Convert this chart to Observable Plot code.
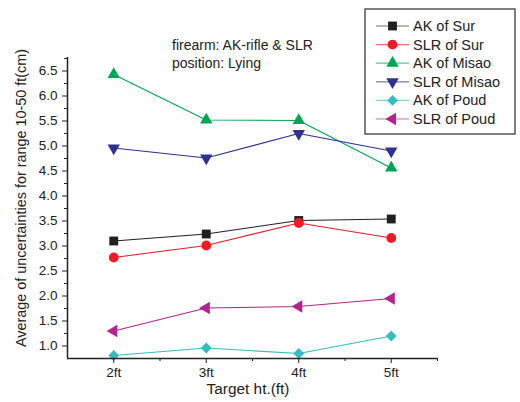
<!DOCTYPE html>
<html>
<head>
<meta charset="utf-8">
<script src="https://cdn.jsdelivr.net/npm/d3@7"></script>
<script src="https://cdn.jsdelivr.net/npm/@observablehq/plot@0.6"></script>
<style>
  body { margin: 0; background: #fff; }
  #chart svg { font-family: "Liberation Sans", Arial, sans-serif; }
</style>
</head>
<body>
<div id="chart"></div>
<script>
// Target heights (ft) and their tick labels
const heights = [2, 3, 4, 5];
const heightLabels = ["2ft", "3ft", "4ft", "5ft"];

// Average uncertainty (cm) for range 10-50 ft, one array per firearm/shooter
const seriesNames = ["AK of Sur", "SLR of Sur", "AK of Misao", "SLR of Misao", "AK of Poud", "SLR of Poud"];
const akSur    = [3.10, 3.24, 3.51, 3.54];
const slrSur   = [2.77, 3.01, 3.46, 3.16];
const akMisao  = [6.43, 5.52, 5.51, 4.56];
const slrMisao = [4.96, 4.76, 5.25, 4.90];
const akPoud   = [0.81, 0.96, 0.85, 1.20];
const slrPoud  = [1.30, 1.76, 1.79, 1.95];

// Axis ticks
const yMajorTicks = [1.0, 1.5, 2.0, 2.5, 3.0, 3.5, 4.0, 4.5, 5.0, 5.5, 6.0, 6.5];
const yMinorTicks = [1.25, 1.75, 2.25, 2.75, 3.25, 3.75, 4.25, 4.75, 5.25, 5.75, 6.25, 6.75];
const xMinorTicks = [2.5, 3.5, 4.5, 5.5];

// Styling per series: colour, marker shape and marker rotation
const style = {
  color:  ["#231f20", "#ed1c24", "#00a651", "#2e3192", "#33bdbd", "#b3228f"],
  symbol: ["square", "circle", "triangle", "triangle", "square", "triangle"],
  rotate: [0, 0, 0, 180, 45, -90],
  r:      [5.0, 4.9, 4.6, 4.6, 4.3, 4.6]
};

const values = [akSur, slrSur, akMisao, slrMisao, akPoud, slrPoud];
const series = seriesNames.map((name, i) => ({
  name, i,
  rows: heights.map((h, j) => ({height: h, value: values[i][j]}))
}));

const width = 520, height = 402;
const axisColor = "#222";
const tickFont = 13.5;
const blank = () => "";

const marks = [];
series.forEach(s => {
  marks.push(Plot.line(s.rows, {x: "height", y: "value", stroke: style.color[s.i], strokeWidth: 1.1}));
});
series.forEach(s => {
  marks.push(Plot.dot(s.rows, {
    x: "height", y: "value",
    symbol: style.symbol[s.i], r: style.r[s.i], rotate: style.rotate[s.i],
    fill: style.color[s.i], stroke: "none"
  }));
});

marks.push(
  // tick marks (outward), major and minor
  Plot.axisY(yMinorTicks, {tickSize: 3, tickFormat: blank, label: null, stroke: axisColor}),
  Plot.axisY(yMajorTicks, {tickSize: 5, tickFormat: blank, label: null, stroke: axisColor}),
  Plot.axisX(xMinorTicks, {tickSize: 3, tickFormat: blank, label: null, stroke: axisColor}),
  Plot.axisX(heights, {tickSize: 5, tickFormat: blank, label: null, stroke: axisColor}),
  // tick labels
  Plot.text(yMajorTicks, {
    y: d => d, frameAnchor: "left", dx: -10, textAnchor: "end",
    text: d3.format(".1f"), fontSize: tickFont, fill: axisColor
  }),
  Plot.text(heights, {
    x: d => d, frameAnchor: "bottom", dy: 18,
    text: d => heightLabels[heights.indexOf(d)], fontSize: tickFont, fill: axisColor
  }),
  // axis lines
  Plot.ruleX([1.5], {stroke: axisColor, strokeWidth: 1.5}),
  Plot.ruleY([0.75], {stroke: axisColor, strokeWidth: 1.5})
);

const chart = Plot.plot({
  width, height,
  marginLeft: 67, marginRight: 83, marginTop: 57, marginBottom: 44,
  style: {color: axisColor, background: "#fff", fontFamily: "'Liberation Sans', Arial, sans-serif"},
  x: {domain: [1.5, 5.5]},
  y: {domain: [0.75, 6.77]},
  marks
});

document.getElementById("chart").appendChild(chart);

const svg = d3.select(chart);

// Axis titles
svg.append("text")
  .attr("transform", "translate(22,198) rotate(-90)")
  .attr("text-anchor", "middle")
  .attr("dominant-baseline", "middle")
  .attr("font-size", 14.4)
  .attr("fill", axisColor)
  .text("Average of uncertainties for range 10-50 ft(cm)");

svg.append("text")
  .attr("x", 248).attr("y", 394)
  .attr("text-anchor", "middle")
  .attr("font-size", 15.4)
  .attr("fill", axisColor)
  .text("Target ht.(ft)");

// Annotation
const note = svg.append("text")
  .attr("text-anchor", "start")
  .attr("font-size", 14)
  .attr("fill", axisColor);
note.append("tspan").attr("x", 172).attr("y", 50).text("firearm: AK-rifle & SLR");
note.append("tspan").attr("x", 172).attr("y", 68).text("position: Lying");

// Legend
const legend = svg.append("g").attr("transform", "translate(365,9)");
legend.append("rect")
  .attr("width", 150).attr("height", 125)
  .attr("fill", "#fff").attr("stroke", "#555").attr("stroke-width", 1.5);

const symbolTypes = {square: d3.symbolSquare, circle: d3.symbolCircle, triangle: d3.symbolTriangle};
series.forEach((s, k) => {
  const row = legend.append("g").attr("transform", `translate(0,${17 + k * 18.6})`);
  row.append("line")
    .attr("x1", 11).attr("x2", 44)
    .attr("stroke", style.color[s.i]).attr("stroke-opacity", 0.65).attr("stroke-width", 1.2);
  const r = style.r[s.i];
  row.append("path")
    .attr("d", d3.symbol(symbolTypes[style.symbol[s.i]], Math.PI * r * r)())
    .attr("transform", `translate(27.5,0) rotate(${style.rotate[s.i]})`)
    .attr("fill", style.color[s.i]);
  row.append("text")
    .attr("x", 48).attr("y", 0)
    .attr("text-anchor", "start")
    .attr("dominant-baseline", "central")
    .attr("font-size", 14.5)
    .attr("fill", axisColor)
    .text(s.name);
});
</script>
</body>
</html>
